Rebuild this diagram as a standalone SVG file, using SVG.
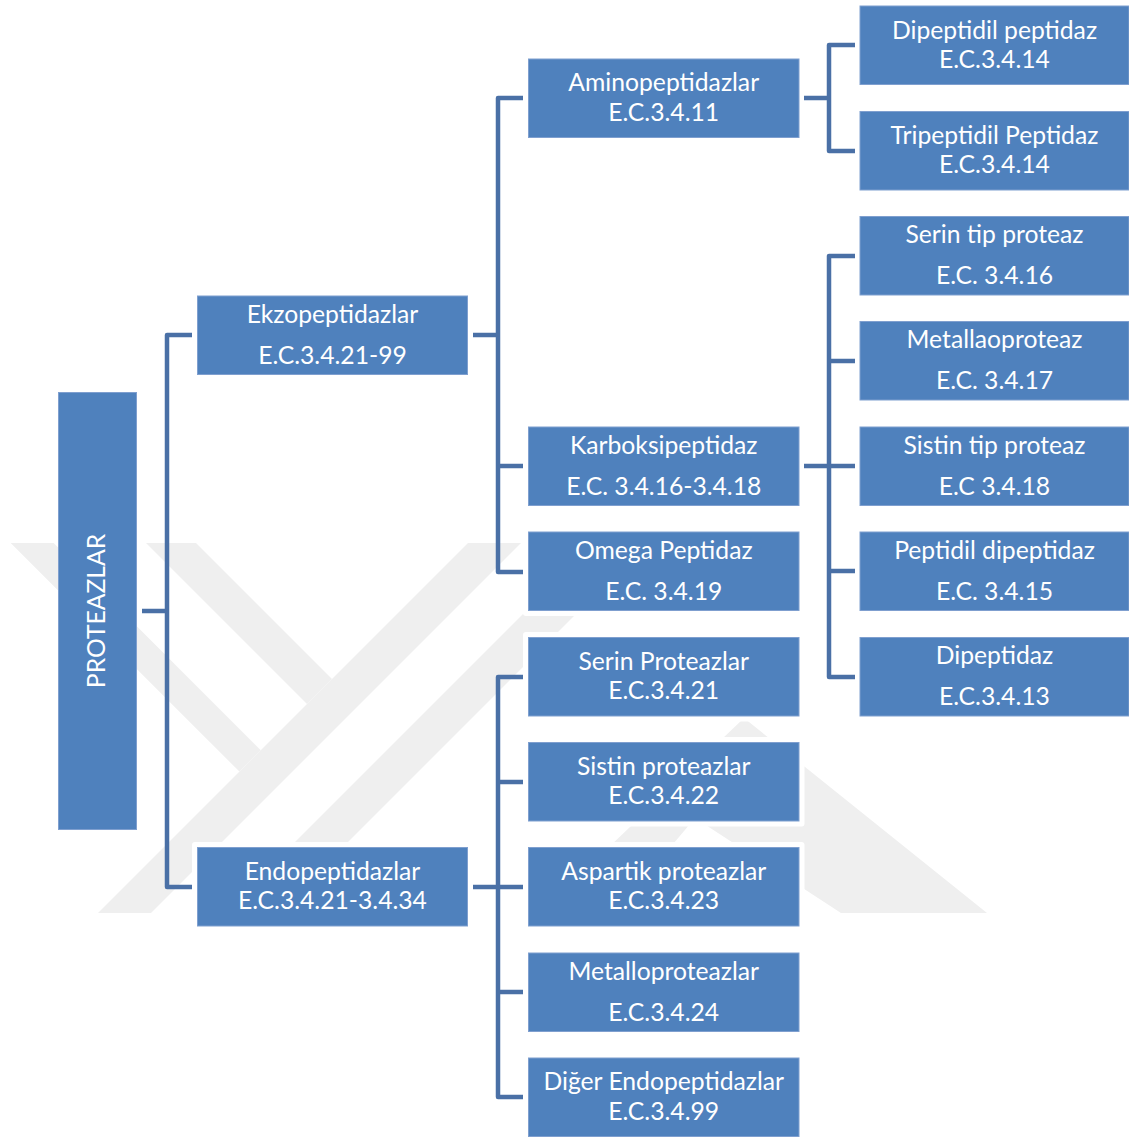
<svg xmlns="http://www.w3.org/2000/svg" width="1129" height="1138" viewBox="0 0 1129 1138">
<style>
.box{fill:#4f81bd;stroke:#7f9fcf;stroke-width:1}
.halo{fill:#ffffff}
.t{font-family:Lato,"Liberation Sans",sans-serif;font-size:24.7px;fill:#ffffff;text-anchor:middle}
.ln{fill:none;stroke:#4a70a6;stroke-width:4.5;stroke-linejoin:round;stroke-linecap:butt}
.wm{fill:#efefef}
</style>
<rect width="1129" height="1138" fill="#ffffff"/>
<g id="watermark">
<polygon class="wm" points="10.7,543 53.6,543 260.8,750.2 239.4,771.6"/>
<polygon class="wm" points="146,543 196,543 332,679 307,704"/>
<polygon class="wm" points="468,543 521,543 151,913 98,913"/>
<polygon class="wm" points="594,543 647,543 277,913 224,913"/>
<polygon class="wm" points="744,718 987,913 841,913 695,818 615,913 540,913"/>
</g>
<g id="halos">
<rect class="halo" x="192" y="290.5" width="281" height="89.5" rx="3"/>
<rect class="halo" x="192" y="842" width="281" height="89.5" rx="3"/>
<rect class="halo" x="523" y="421.5" width="281.5" height="89.5" rx="3"/>
<rect class="halo" x="523" y="526.5" width="281.5" height="89.5" rx="3"/>
<rect class="halo" x="523" y="632" width="281.5" height="89.5" rx="3"/>
<rect class="halo" x="523" y="737" width="281.5" height="89.5" rx="3"/>
<rect class="halo" x="523" y="842" width="281.5" height="89.5" rx="3"/>
<rect class="halo" x="523" y="947.5" width="281.5" height="89.5" rx="3"/>
</g>
<g id="connectors">
<path class="ln" d="M142,611 H167 M192,335 H167 V887 H192"/>
<path class="ln" d="M473,335 H498 M523,98 H498 V572 H523 M498,466 H523"/>
<path class="ln" d="M473,887 H523 M523,677 H498 V1097 H523 M498,782 H523 M498,992 H523"/>
<path class="ln" d="M804,98 H829 M855,45 H829 V151 H855"/>
<path class="ln" d="M804,466 H855 M855,256 H829 V677 H855 M829,361 H855 M829,571 H855"/>
</g>
<g id="n-proteazlar">
<rect class="box" x="58.5" y="392.5" width="78" height="437"/>
<text class="t" transform="translate(105,611) rotate(-90)">PROTEAZLAR</text>
</g>
<g id="n-ekzo">
<rect class="box" x="197.5" y="296" width="270" height="78.5"/>
<text class="t" x="332.5" y="322.75">Ekzopeptidazlar</text>
<text class="t" x="332.5" y="363.75">E.C.3.4.21-99</text>
</g>
<g id="n-endo">
<rect class="box" x="197.5" y="847.5" width="270" height="78.5"/>
<text class="t" x="332.5" y="879.75">Endopeptidazlar</text>
<text class="t" x="332.5" y="909.25">E.C.3.4.21-3.4.34</text>
</g>
<g id="n-amino">
<rect class="box" x="528.5" y="59" width="270.5" height="78.5"/>
<text class="t" x="663.75" y="91.25">Aminopeptidazlar</text>
<text class="t" x="663.75" y="120.75">E.C.3.4.11</text>
</g>
<g id="n-karboksi">
<rect class="box" x="528.5" y="427" width="270.5" height="78.5"/>
<text class="t" x="663.75" y="453.75">Karboksipeptidaz</text>
<text class="t" x="663.75" y="494.75">E.C. 3.4.16-3.4.18</text>
</g>
<g id="n-omega">
<rect class="box" x="528.5" y="532" width="270.5" height="78.5"/>
<text class="t" x="663.75" y="558.75">Omega Peptidaz</text>
<text class="t" x="663.75" y="599.75">E.C. 3.4.19</text>
</g>
<g id="n-serin">
<rect class="box" x="528.5" y="637.5" width="270.5" height="78.5"/>
<text class="t" x="663.75" y="669.75">Serin Proteazlar</text>
<text class="t" x="663.75" y="699.25">E.C.3.4.21</text>
</g>
<g id="n-sistin">
<rect class="box" x="528.5" y="742.5" width="270.5" height="78.5"/>
<text class="t" x="663.75" y="774.75">Sistin proteazlar</text>
<text class="t" x="663.75" y="804.25">E.C.3.4.22</text>
</g>
<g id="n-aspartik">
<rect class="box" x="528.5" y="847.5" width="270.5" height="78.5"/>
<text class="t" x="663.75" y="879.75">Aspartik proteazlar</text>
<text class="t" x="663.75" y="909.25">E.C.3.4.23</text>
</g>
<g id="n-metallo">
<rect class="box" x="528.5" y="953" width="270.5" height="78.5"/>
<text class="t" x="663.75" y="979.75">Metalloproteazlar</text>
<text class="t" x="663.75" y="1020.75">E.C.3.4.24</text>
</g>
<g id="n-diger">
<rect class="box" x="528.5" y="1058" width="270.5" height="78.5"/>
<text class="t" x="663.75" y="1090.25">Diğer Endopeptidazlar</text>
<text class="t" x="663.75" y="1119.75">E.C.3.4.99</text>
</g>
<g id="n-dipeptidil">
<rect class="box" x="860" y="6" width="269" height="78.5"/>
<text class="t" x="994.5" y="38.75">Dipeptidil peptidaz</text>
<text class="t" x="994.5" y="68.25">E.C.3.4.14</text>
</g>
<g id="n-tripeptidil">
<rect class="box" x="860" y="111.5" width="269" height="78.5"/>
<text class="t" x="994.5" y="143.75">Tripeptidil Peptidaz</text>
<text class="t" x="994.5" y="172.75">E.C.3.4.14</text>
</g>
<g id="n-serintip">
<rect class="box" x="860" y="216.5" width="269" height="78.5"/>
<text class="t" x="994.5" y="243.25">Serin tip proteaz</text>
<text class="t" x="994.5" y="284.25">E.C. 3.4.16</text>
</g>
<g id="n-metallao">
<rect class="box" x="860" y="321.5" width="269" height="78.5"/>
<text class="t" x="994.5" y="348.25">Metallaoproteaz</text>
<text class="t" x="994.5" y="389.25">E.C. 3.4.17</text>
</g>
<g id="n-sistintip">
<rect class="box" x="860" y="427" width="269" height="78.5"/>
<text class="t" x="994.5" y="453.75">Sistin tip proteaz</text>
<text class="t" x="994.5" y="494.75">E.C 3.4.18</text>
</g>
<g id="n-peptidil">
<rect class="box" x="860" y="532" width="269" height="78.5"/>
<text class="t" x="994.5" y="558.75">Peptidil dipeptidaz</text>
<text class="t" x="994.5" y="599.75">E.C. 3.4.15</text>
</g>
<g id="n-dipeptidaz">
<rect class="box" x="860" y="637.5" width="269" height="78.5"/>
<text class="t" x="994.5" y="664.25">Dipeptidaz</text>
<text class="t" x="994.5" y="705.25">E.C.3.4.13</text>
</g>
</svg>
